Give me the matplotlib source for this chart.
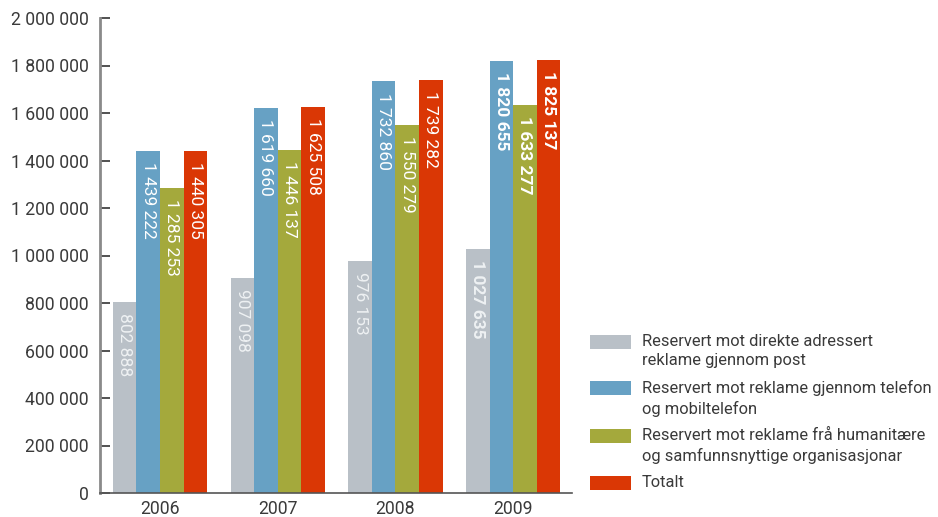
import numpy as np
from matplotlib import pyplot as plt
from matplotlib.patches import Rectangle

plt.rcParams['font.family'] = ['Roboto', 'DejaVu Sans']

years = ['2006', '2007', '2008', '2009']
post = [802888, 907098, 976153, 1027635]
telefon = [1439222, 1619660, 1732860, 1820655]
humanitaere = [1285253, 1446137, 1550279, 1633277]
totalt = [1440305, 1625508, 1739282, 1825137]

series = [post, telefon, humanitaere, totalt]
colors = ['#b9c0c7', '#67a1c4', '#a4a93c', '#da3705']
label_colors = ['#eef1f3', 'white', 'white', 'white']
labels = ['Reservert mot direkte adressert\nreklame gjennom post',
          'Reservert mot reklame gjennom telefon\nog mobiltelefon',
          'Reservert mot reklame frå humanitære\nog samfunnsnyttige organisasjonar',
          'Totalt']
yticks = np.arange(0, 2000001, 200000)

def fmt(v):
    return '{:,}'.format(int(v)).replace(',', ' ')

fig = plt.figure(figsize=(9.38, 5.17), dpi=100)
ax = fig.add_axes([100/938, 24/517, 472/938, 475/517])

x = np.arange(len(years))
w = 0.2
for i, s in enumerate(series):
    xs = x + (i - 1.5) * w
    ax.bar(xs, s, width=w, color=colors[i], linewidth=0)
    for j, v in enumerate(s):
        ax.annotate(fmt(v), (xs[j], v), xytext=(0, -8), textcoords='offset points',
                    rotation=270, ha='center', va='top', color=label_colors[i],
                    fontsize=12.5, fontweight='bold' if j == 3 else 'normal')

ax.set_xlim(-0.51, 3.5)
ax.set_ylim(0, 2000000)
ax.set_yticks(yticks)
ax.set_yticklabels([fmt(t) for t in yticks])
ax.set_xticks(x)
ax.set_xticklabels(years)
ax.tick_params(axis='y', direction='in', length=7, width=1.2, color='#333333',
               labelsize=12.7, labelcolor='#3a3a3a', pad=8)
ax.tick_params(axis='x', length=0, labelsize=12.7, labelcolor='#3a3a3a', pad=5)
for side in ['top', 'right']:
    ax.spines[side].set_visible(False)
ax.spines['left'].set_color('#8a8a8a')
ax.spines['left'].set_linewidth(2)
ax.spines['bottom'].set_color('#555555')
ax.spines['bottom'].set_linewidth(1.2)

# legend drawn by hand so the patch sits on the first text line
tops = [335, 381, 429, 476]
for i in range(4):
    fig.add_artist(Rectangle((590/938, 1 - (tops[i] + 14)/517), 41/938, 14/517,
                             transform=fig.transFigure, color=colors[i], linewidth=0))
    fig.text(642/938, 1 - (tops[i] - 1)/517, labels[i], ha='left', va='top',
             fontsize=11.9, color='#3a3a3a', linespacing=1.35)

fig.savefig('out.png', dpi=100)
